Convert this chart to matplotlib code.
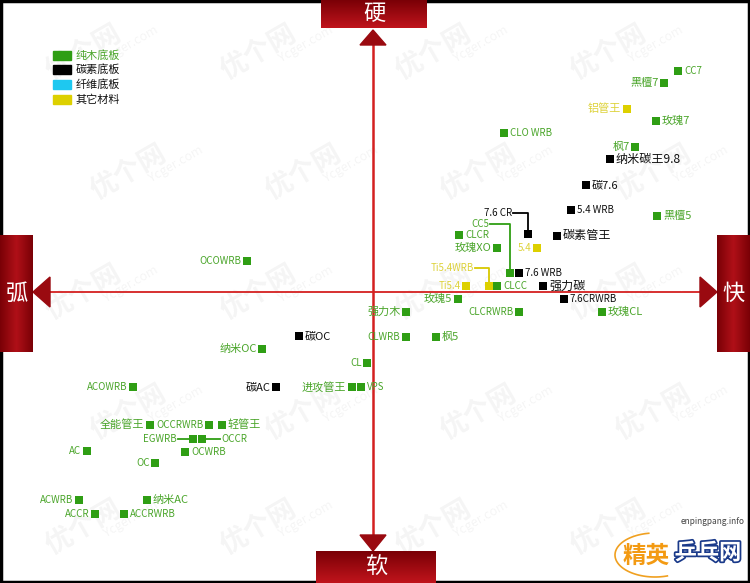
import matplotlib
matplotlib.use("Agg")
import matplotlib.pyplot as plt
import numpy as np
from matplotlib.patches import Polygon, Rectangle
from matplotlib.colors import LinearSegmentedColormap
import matplotlib.patheffects as pe

plt.rcParams['font.family'] = ['Noto Sans CJK SC', 'DejaVu Sans']

# ---- data: position of each blade (speed: -ve=弧 / +ve=快, hardness: -ve=软 / +ve=硬)
names = ["CC7", "黑檀7", "铝管王", "玫瑰7", "CLO WRB", "枫7", "纳米碳王9.8", "碳7.6",
         "5.4 WRB", "黑檀5", "7.6 CR", "CC5", "7.6 WRB", "CLCR", "碳素管王", "玫瑰XO",
         "5.4", "Ti5.4WRB", "Ti5.4", "CLCC", "强力碳", "玫瑰5", "7.6CRWRB", "强力木",
         "CLCRWRB", "玫瑰CL", "CLWRB", "枫5", "OCOWRB", "碳OC", "纳米OC", "CL", "碳AC",
         "进攻管王", "VPS", "ACOWRB", "全能管王", "OCCRWRB", "轻管王", "EGWRB", "OCCR",
         "OCWRB", "AC", "OC", "ACWRB", "纳米AC", "ACCR", "ACCRWRB"]
speed = [305, 291, 254, 283, 131, 262, 237, 213,
         198, 284, 155, 137, 146, 86, 184, 124,
         164, 116, 93, 124, 170, 85, 191, 33,
         146, 229, 33, 63, -126, -74, -111, -6, -97,
         -21, -12, -240, -223, -164, -151, -180, -171,
         -188, -286, -218, -294, -226, -278, -249]
hardness = [221, 209, 183, 171, 159, 145, 133, 107,
            82, 76, 58, 19, 19, 57, 56, 44,
            44, 6, 6, 6, 6, -7, -7, -20,
            -20, -20, -45, -45, 31, -44, -57, -71, -95,
            -95, -95, -95, -133, -133, -133, -147, -147,
            -160, -159, -171, -208, -208, -222, -222]
material = ["wood", "wood", "other", "wood", "wood", "wood", "carbon", "carbon",
            "carbon", "wood", "carbon", "wood", "carbon", "wood", "carbon", "wood",
            "other", "other", "other", "wood", "carbon", "wood", "carbon", "wood",
            "wood", "wood", "wood", "wood", "wood", "carbon", "wood", "wood", "carbon",
            "wood", "wood", "wood", "wood", "wood", "wood", "wood", "wood",
            "wood", "wood", "wood", "wood", "wood", "wood", "wood"]
legend_labels = ["纯木底板", "碳素底板", "纤维底板", "其它材料"]
legend_keys = ["wood", "carbon", "fiber", "other"]
axis_labels = {"top": "硬", "bottom": "软", "left": "弧", "right": "快"}

# ---- styles
marker_col = {"wood": "#2f9e14", "carbon": "#000000", "fiber": "#1ec8f0", "other": "#ddd000"}
text_col = {"wood": "#4aa52a", "carbon": "#111111", "fiber": "#1ec8f0", "other": "#ddd23a"}
label_side = {"CC7": "R", "黑檀7": "L", "铝管王": "L", "玫瑰7": "R", "CLO WRB": "R", "枫7": "L",
              "纳米碳王9.8": "R", "碳7.6": "R", "5.4 WRB": "R", "黑檀5": "R", "7.6 WRB": "R",
              "CLCR": "R", "碳素管王": "R", "玫瑰XO": "L", "5.4": "L", "Ti5.4": "L", "CLCC": "R",
              "强力碳": "R", "玫瑰5": "L", "7.6CRWRB": "R", "强力木": "L", "CLCRWRB": "L",
              "玫瑰CL": "R", "CLWRB": "L", "枫5": "R", "OCOWRB": "L", "碳OC": "R", "纳米OC": "L",
              "CL": "L", "碳AC": "L", "进攻管王": "L", "VPS": "R", "ACOWRB": "L", "全能管王": "L",
              "OCCRWRB": "L", "轻管王": "R", "OCWRB": "R", "AC": "L", "OC": "L", "ACWRB": "L",
              "纳米AC": "R", "ACCR": "L", "ACCRWRB": "R"}
# labels attached with a leader line: (dx, dy) of label end relative to marker
leaders = {"7.6 CR": (-15, 21), "CC5": (-20, 49), "Ti5.4WRB": (-14, 18),
           "EGWRB": (-15, 0), "OCCR": (18, 0)}
big = {"纳米碳王9.8": 8.7, "碳素管王": 8.7, "强力碳": 8.7}


def label_size(n):
    if n in big:
        return big[n]
    return 7.0 if n.isascii() else 8


W, H = 750, 583
CX, CY = 373, 292
fig = plt.figure(figsize=(W / 100, H / 100), dpi=100)
ax = fig.add_axes([0, 0, 1, 1])
ax.set_xlim(-CX, W - CX)
ax.set_ylim(CY - H, CY)
ax.axis("off")
fig.patch.set_facecolor("white")

# faint watermarks
for r, yy in enumerate([240, 120, 0, -120, -235]):
    for c, xx in enumerate([-290, -115, 60, 235]):
        x0 = xx + (45 if r % 2 else 0)
        ax.text(x0, yy, "优个网", fontsize=20, color="#000000", alpha=0.045,
                rotation=30, ha="center", va="center", fontweight="bold", zorder=0)
        ax.text(x0 + 48, yy + 8, "Ycger.com", fontsize=9, color="#000000", alpha=0.045,
                rotation=30, ha="center", va="center", zorder=0)

# axes lines
red = "#d42020"
dark = "#9a0a10"
ax.plot([0, 0], [CY - 45, CY - 535], color=red, lw=1.8, zorder=2)
ax.plot([50 - CX, 700 - CX], [0, 0], color=red, lw=1.3, zorder=2)
ax.add_patch(Polygon([[0, CY - 30], [-13, CY - 45], [13, CY - 45]], color=dark, zorder=3))
ax.add_patch(Polygon([[0, CY - 551], [-13, CY - 535], [13, CY - 535]], color=dark, zorder=3))
ax.add_patch(Polygon([[33 - CX, 0], [50 - CX, 15], [50 - CX, -15]], color=dark, zorder=3))
ax.add_patch(Polygon([[717 - CX, 0], [700 - CX, 15], [700 - CX, -15]], color=dark, zorder=3))

grad = np.linspace(0, 1, 64).reshape(-1, 1)
cm_v = LinearSegmentedColormap.from_list("v", ["#c0141c", "#7a0006"])
cm_h = LinearSegmentedColormap.from_list("h", ["#7a0006", "#b01018", "#7a0006"])


def box(x0, x1, y0, y1, text, vertical):
    ext = [x0 - CX, x1 - CX, CY - y1, CY - y0]
    if vertical:
        ax.imshow(grad[::-1], extent=ext, cmap=cm_v, aspect="auto", zorder=4)
    else:
        ax.imshow(grad.T, extent=ext, cmap=cm_h, aspect="auto", zorder=4)
    ax.text((x0 + x1) / 2 - CX, CY - (y0 + y1) / 2, text, color="white", fontsize=16,
            ha="center", va="center", zorder=5)


box(321, 427, 0, 28, axis_labels["top"], True)
box(316, 436, 551, 583, axis_labels["bottom"], True)
box(0, 33, 235, 352, axis_labels["left"], False)
box(717, 750, 235, 352, axis_labels["right"], False)

# points
for n, sx, hy, m in zip(names, speed, hardness, material):
    ax.scatter([sx], [hy], marker="s", s=38, color=marker_col[m], edgecolors="none", zorder=6)
    fs = label_size(n)
    if n in leaders:
        dx, dy = leaders[n]
        lc = marker_col[m] if m != "other" else "#d8c800"
        if dy != 0:
            ax.plot([sx, sx, sx + dx], [hy + 4, hy + dy, hy + dy], color=lc, lw=1.3, zorder=5)
        else:
            ax.plot([sx, sx + dx], [hy, hy], color=lc, lw=1.3, zorder=5)
        ha = "right" if dx < 0 else "left"
        ax.text(sx + dx + (-1 if dx < 0 else 1), hy + dy, n, color=text_col[m], fontsize=fs,
                ha=ha, va="center", zorder=6)
    else:
        side = label_side[n]
        off = 6 if side == "R" else -5.5
        ax.text(sx + off, hy, n, color=text_col[m], fontsize=fs,
                ha=("left" if side == "R" else "right"), va="center", zorder=6)

# legend
for i, (lab, key) in enumerate(zip(legend_labels, legend_keys)):
    py = 55 + i * 14.7
    ax.add_patch(Rectangle((53 - CX, CY - py - 4.5), 18, 9, color=marker_col[key], zorder=6))
    ax.text(76 - CX, CY - py, lab, fontsize=8, color=("#4aa52a" if key == "wood" else "#111111"),
            ha="left", va="center", zorder=6)

# logo (approximation)
t = np.linspace(np.pi * 0.55, np.pi * 1.6, 60)
ax.plot(655 - CX + 40 * np.cos(t), CY - 555 + 22 * np.sin(t), color="#f0a020", lw=1.2, zorder=6)
ax.text(745 - CX, CY - 522, "enpingpang.info", fontsize=6, color="#444444", ha="right",
        va="center", zorder=7)
ax.text(646 - CX, CY - 556, "精英", fontsize=17, color="#f39a12", fontweight="bold",
        ha="center", va="center", zorder=7)
tx = ax.text(708 - CX, CY - 553, "乒乓网", fontsize=16, color="white", fontweight="bold",
             ha="center", va="center", zorder=7)
tx.set_path_effects([pe.withStroke(linewidth=2.5, foreground="#1a3a8a")])

# black frame
ax.add_patch(Rectangle((-CX + 1, CY - H + 1), W - 2, H - 2, fill=False, ec="black", lw=2.5, zorder=3))

fig.savefig("out.png", dpi=100, facecolor="white")
